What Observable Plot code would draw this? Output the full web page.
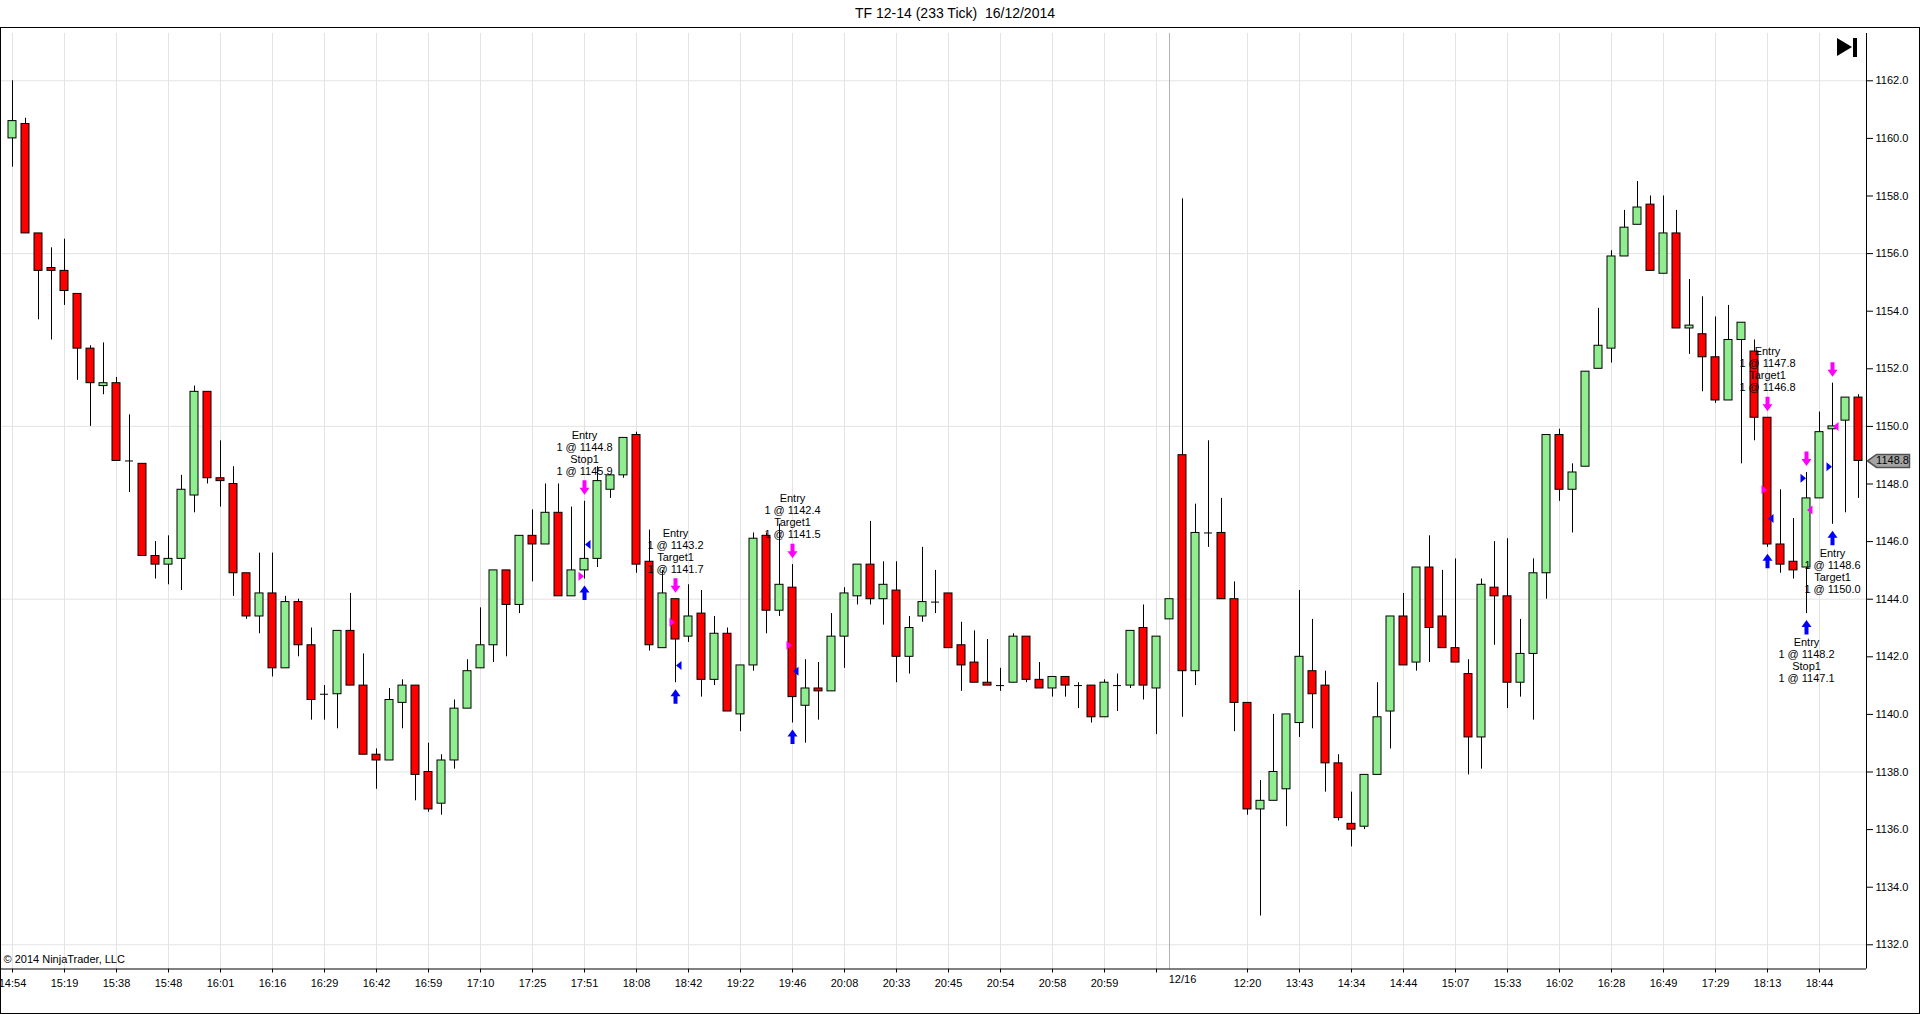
<!DOCTYPE html>
<html><head><meta charset="utf-8">
<script src="https://cdn.jsdelivr.net/npm/d3@7"></script>
<script src="https://cdn.jsdelivr.net/npm/@observablehq/plot@0.6"></script>
<style>
html,body{margin:0;padding:0;background:#fff;overflow:hidden;}
body{width:1920px;height:1014px;position:relative;font-family:"Liberation Sans",Arial,sans-serif;}
#title{position:absolute;left:0;top:0;width:1910px;height:27px;line-height:27px;text-align:center;font-size:14px;white-space:pre;color:#000;}
#chart{position:absolute;left:0;top:27px;}
#frame{position:absolute;left:0;top:27px;width:1920px;height:987px;box-sizing:border-box;border:1px solid #000;pointer-events:none;}
#endbtn{position:absolute;left:1837px;top:38px;width:21px;height:19px;}
#endbtn .tri{position:absolute;left:0;top:0;width:0;height:0;border-left:15px solid #000;border-top:9.5px solid transparent;border-bottom:9.5px solid transparent;}
#endbtn .bar{position:absolute;left:16px;top:0;width:4px;height:19px;background:#000;}
</style></head>
<body>
<div id="title">TF 12-14 (233 Tick)  16/12/2014</div>
<div id="chart"></div>
<div id="frame"></div>
<div id="endbtn"><div class="tri"></div><div class="bar"></div></div>
<script>
const opens = [
1160.0,1160.5,1156.7,1155.5,1155.4,1154.6,1152.7,1151.4,1151.5,1148.8,
1148.7,1145.5,1145.2,1145.4,1147.6,1151.2,1148.2,1148.0,1144.9,1143.4,
1144.2,1141.6,1143.9,1142.4,1140.7,1140.7,1142.9,1141.0,1138.6,1138.4,
1140.4,1141.0,1138.0,1136.9,1138.4,1140.2,1141.6,1142.4,1145.0,1143.8,
1146.2,1145.9,1147.0,1144.1,1145.0,1145.4,1147.8,1148.3,1149.7,1145.3,
1142.3,1144.0,1142.7,1143.5,1141.2,1142.8,1140.0,1141.7,1146.2,1143.6,
1144.4,1140.3,1140.9,1140.8,1142.7,1144.1,1145.2,1144.0,1144.3,1142.0,
1143.4,1143.9,1144.2,1142.4,1141.8,1141.1,1141.0,1141.1,1142.7,1141.2,
1140.9,1141.3,1141.0,1141.0,1139.9,1141.0,1141.0,1143.0,1140.9,1143.3,
1149.0,1141.5,1146.3,1146.3,1144.0,1140.4,1136.7,1137.0,1137.4,1139.7,
1141.5,1141.0,1138.3,1136.2,1136.1,1137.9,1140.1,1143.4,1141.8,1145.1,
1143.4,1142.3,1141.4,1139.2,1144.4,1144.1,1141.1,1142.1,1144.9,1149.7,
1147.8,1148.6,1152.0,1152.7,1155.9,1157.0,1157.7,1155.3,1156.7,1153.4,
1153.2,1152.4,1150.9,1153.0,1152.6,1150.3,1145.9,1145.3,1145.1,1147.5,
1149.9,1150.2,1151.0];
const highs = [
1162.0,1160.7,1156.7,1156.2,1156.5,1154.6,1152.8,1152.9,1151.7,1150.4,
1148.7,1146.0,1146.2,1148.3,1151.4,1151.2,1149.5,1148.6,1144.9,1145.6,
1145.6,1144.1,1144.0,1143.0,1141.0,1142.9,1144.2,1142.1,1138.8,1140.9,
1141.2,1141.0,1139.0,1138.6,1140.5,1141.9,1143.7,1145.0,1145.0,1146.2,
1147.1,1148.0,1148.0,1147.2,1147.4,1148.6,1148.3,1149.6,1149.8,1146.4,
1145.0,1144.0,1144.5,1144.3,1143.4,1143.0,1141.7,1146.3,1146.3,1146.6,
1145.2,1141.9,1141.8,1143.5,1144.4,1145.2,1146.7,1145.3,1145.3,1143.4,
1145.8,1145.0,1144.2,1143.2,1142.9,1142.6,1141.6,1142.8,1142.7,1141.8,
1141.3,1141.3,1141.1,1141.0,1141.2,1141.4,1142.9,1143.8,1142.7,1144.0,
1157.9,1147.3,1149.5,1147.5,1144.6,1140.4,1137.7,1140.0,1140.0,1144.3,
1143.3,1141.5,1138.6,1137.3,1137.9,1141.1,1143.4,1144.2,1145.1,1146.2,
1145.0,1145.4,1141.9,1144.7,1146.0,1146.1,1143.3,1145.4,1149.7,1149.9,
1148.7,1151.9,1154.1,1156.1,1157.5,1158.5,1158.0,1158.0,1157.5,1155.1,
1154.5,1153.8,1154.2,1153.6,1153.0,1150.3,1147.8,1146.8,1148.4,1150.5,
1151.5,1151.0,1151.1];
const lows = [
1159.0,1156.7,1153.7,1153.0,1154.2,1151.6,1150.0,1151.1,1148.8,1147.7,
1145.5,1144.7,1144.5,1144.3,1147.0,1148.0,1147.2,1144.1,1143.3,1142.8,
1141.3,1141.6,1142.0,1139.8,1139.8,1139.5,1141.0,1138.6,1137.4,1138.4,
1139.5,1137.0,1136.6,1136.5,1138.1,1140.2,1141.6,1141.8,1142.0,1143.5,
1144.6,1145.9,1144.1,1144.1,1144.7,1145.1,1147.5,1148.2,1144.9,1142.2,
1142.3,1141.1,1142.5,1140.6,1141.0,1140.1,1139.4,1141.5,1142.8,1143.4,
1139.7,1139.0,1139.8,1140.8,1141.6,1143.8,1143.8,1143.1,1141.1,1141.4,
1143.2,1143.5,1142.3,1140.8,1141.1,1141.0,1140.8,1141.1,1141.1,1140.9,
1140.6,1140.6,1140.2,1139.7,1139.9,1140.1,1140.9,1140.5,1139.3,1143.3,
1139.9,1141.0,1145.8,1144.0,1139.4,1136.5,1133.0,1137.0,1136.1,1139.2,
1139.5,1137.3,1136.3,1135.4,1136.0,1137.9,1138.8,1141.7,1141.5,1141.8,
1142.3,1141.8,1137.9,1138.1,1142.4,1140.2,1140.6,1139.8,1144.0,1147.4,
1146.3,1148.6,1152.0,1152.2,1155.9,1157.0,1155.4,1155.3,1153.4,1152.5,
1151.2,1150.8,1150.9,1148.7,1149.5,1145.8,1144.9,1144.7,1143.5,1147.5,
1146.6,1147.0,1147.5];
const closes = [
1160.6,1156.7,1155.4,1155.4,1154.7,1152.7,1151.5,1151.5,1148.8,1148.8,
1145.5,1145.2,1145.4,1147.8,1151.2,1148.2,1148.1,1144.9,1143.4,1144.2,
1141.6,1143.9,1142.4,1140.5,1140.7,1142.9,1141.0,1138.6,1138.4,1140.5,
1141.0,1137.9,1136.7,1138.4,1140.2,1141.5,1142.4,1145.0,1143.8,1146.2,
1145.9,1147.0,1144.1,1145.0,1145.4,1148.1,1148.3,1149.6,1145.2,1142.4,
1144.2,1142.6,1143.4,1141.2,1142.8,1140.1,1141.7,1146.1,1143.6,1144.5,
1140.6,1140.9,1140.8,1142.7,1144.2,1145.2,1144.0,1144.5,1142.0,1143.0,
1143.9,1143.9,1142.3,1141.7,1141.1,1141.0,1141.0,1142.7,1141.2,1140.9,
1141.3,1141.0,1141.0,1139.9,1141.1,1141.0,1142.9,1141.0,1142.7,1144.0,
1141.5,1146.3,1146.3,1144.0,1140.4,1136.7,1137.0,1138.0,1140.0,1142.0,
1140.7,1138.3,1136.4,1136.0,1137.9,1139.9,1143.4,1141.7,1145.1,1143.0,
1142.3,1141.8,1139.2,1144.5,1144.1,1141.1,1142.1,1144.9,1149.7,1147.8,
1148.4,1151.9,1152.8,1155.9,1156.9,1157.6,1155.4,1156.7,1153.4,1153.5,
1152.4,1150.9,1153.0,1153.6,1150.3,1145.9,1145.2,1145.0,1147.5,1149.8,
1150.0,1151.0,1148.8];

const tickIdx = [0,4,8,12,16,20,24,28,32,36,40,44,48,52,56,60,64,68,72,76,80,84,88,
                 95,99,103,107,111,115,119,123,127,131,135,139];
const tickLabels = ["14:54","15:19","15:38","15:48","16:01","16:16","16:29","16:42","16:59","17:10",
                    "17:25","17:51","18:08","18:42","19:22","19:46","20:08","20:33","20:45","20:54",
                    "20:58","20:59","",
                    "12:20","13:43","14:34","14:44","15:07","15:33","16:02","16:28","16:49","17:29","18:13","18:44"];
const dateIdx = [90];
const dateLabels = ["12/16"];
const sessionBreakIdx = [89];
const priceTicks = [1132,1134,1136,1138,1140,1142,1144,1146,1148,1150,1152,1154,1156,1158,1160,1162];
const priceGrid = [1132,1138,1144,1150,1156,1162];

const tradeBar = [44,51,60,135,138,140];
const tradeEntry = [1144.8,1143.2,1142.4,1147.8,1148.2,1148.6];
const tradeExit = [1145.9,1141.7,1141.5,1146.8,1147.1,1150.0];
const tradeSide = ["short","short","short","short","long","long"];
const tradeExitName = ["Stop1","Target1","Target1","Target1","Stop1","Target1"];
const copyright = "© 2014 NinjaTrader, LLC";

const UP = "#90EE90", DOWN = "#FF0000", MAG = "#FF00FF", BLUE = "#0000FF";
const X_DOMAIN = [-12/13, 1854/13];
const Y_DOMAIN = [1131.16, 1163.642];
const HALF = 4/13;

const candles = opens.map((o,i)=>({i, o, h: highs[i], l: lows[i], c: closes[i]}));
const bodies = candles.filter(d=>d.o!==d.c);
const dojis = candles.filter(d=>d.o===d.c);
const trades = tradeBar.map((b,k)=>({bar:b, entry:tradeEntry[k], exit:tradeExit[k], side:tradeSide[k],
  name:tradeExitName[k], high:highs[b], low:lows[b]}));
const labelOf = new Map(tickIdx.map((t,k)=>[t, tickLabels[k]]));
const lastClose = [closes[closes.length-1]];

const downArrow = {draw(c){c.moveTo(-2,-7);c.lineTo(2,-7);c.lineTo(2,0.5);c.lineTo(5,0.5);c.lineTo(0,7.5);c.lineTo(-5,0.5);c.lineTo(-2,0.5);c.closePath();}};
const upArrow = {draw(c){c.moveTo(-2,7);c.lineTo(2,7);c.lineTo(2,-0.5);c.lineTo(5,-0.5);c.lineTo(0,-7.5);c.lineTo(-5,-0.5);c.lineTo(-2,-0.5);c.closePath();}};
const triRight = {draw(c){c.moveTo(-6,-4.5);c.lineTo(-0.5,0);c.lineTo(-6,4.5);c.closePath();}};
const triLeft = {draw(c){c.moveTo(6,-4.5);c.lineTo(0.5,0);c.lineTo(6,4.5);c.closePath();}};
const badge = {draw(c){c.moveTo(1,0);c.lineTo(10,-6.5);c.lineTo(43,-6.5);c.lineTo(43,6.5);c.lineTo(10,6.5);c.closePath();}};

const tradeText = d => `Entry\n1 @ ${d.entry.toFixed(1)}\n${d.name}\n1 @ ${d.exit.toFixed(1)}`;

const chart = Plot.plot({
  width: 1920, height: 987,
  marginTop: 6, marginBottom: 45.5, marginLeft: 0, marginRight: 54,
  style: {fontFamily: '"Liberation Sans", Arial, sans-serif', fontSize: "11px", color: "#000", background: "transparent", overflow: "visible"},
  color: {type: "identity"},
  x: {type: "linear", domain: X_DOMAIN, ticks: tickIdx, tickFormat: d => labelOf.get(d) ?? "", tickSize: 4, tickPadding: 6, label: null, axis: "bottom"},
  y: {type: "linear", domain: Y_DOMAIN, ticks: priceTicks, tickFormat: d => d.toFixed(1), tickSize: 6, tickPadding: 3, label: null, axis: "right"},
  marks: [
    Plot.ruleY(priceGrid, {y: d=>d, stroke: "#e3e3e3"}),
    Plot.ruleX(tickIdx, {x: d=>d, stroke: "#e3e3e3"}),
    Plot.ruleX(sessionBreakIdx, {x: d=>d, stroke: "#b2b2b2"}),
    Plot.ruleX([X_DOMAIN[1]], {x: d=>d, stroke: "#000"}),
    Plot.ruleY([Y_DOMAIN[0]], {y: d=>d, stroke: "#000"}),
    Plot.ruleX(candles, {x: "i", y1: "l", y2: "h", stroke: "#000"}),
    Plot.rect(bodies, {x1: d=>d.i-HALF, x2: d=>d.i+HALF, y1: "o", y2: "c", fill: d=>d.c>d.o?UP:DOWN, stroke: "#000"}),
    Plot.ruleY(dojis, {x1: d=>d.i-HALF, x2: d=>d.i+HALF, y: "c", stroke: "#000"}),
    Plot.dot(trades, {x: "bar", y: "high", dy: -14, symbol: downArrow, fill: MAG, stroke: "none"}),
    Plot.dot(trades, {x: "bar", y: "low", dy: 14, symbol: upArrow, fill: BLUE, stroke: "none"}),
    Plot.dot(trades, {x: "bar", y: "entry", symbol: triRight, fill: d=>d.side==="short"?MAG:BLUE, stroke: "none"}),
    Plot.dot(trades, {x: "bar", y: "exit", symbol: triLeft, fill: d=>d.side==="short"?BLUE:MAG, stroke: "none"}),
    Plot.text(trades.filter(d=>d.side==="short"), {x: "bar", y: "high", dy: -26.5, lineAnchor: "bottom", lineHeight: 1.09, text: tradeText, fill: "#000"}),
    Plot.text(trades.filter(d=>d.side==="long"), {x: "bar", y: "low", dy: 24, lineAnchor: "top", lineHeight: 1.09, text: tradeText, fill: "#000"}),
    Plot.dot(lastClose, {y: d=>d, frameAnchor: "right", symbol: badge, fill: "#a4a4a4", stroke: "#505050"}),
    Plot.text(lastClose, {y: d=>d, frameAnchor: "right", dx: 26, textAnchor: "middle", text: d=>d.toFixed(1), fill: "#000"}),
    Plot.text(dateIdx, {x: d=>d, frameAnchor: "bottom", dy: 13.5, text: (d,k)=>dateLabels[k], fill: "#000"}),
    Plot.text([copyright], {frameAnchor: "bottom-left", dx: 3, dy: -6, textAnchor: "start", text: d=>d, fill: "#000"})
  ]
});
document.getElementById("chart").appendChild(chart);
</script>
</body></html>
